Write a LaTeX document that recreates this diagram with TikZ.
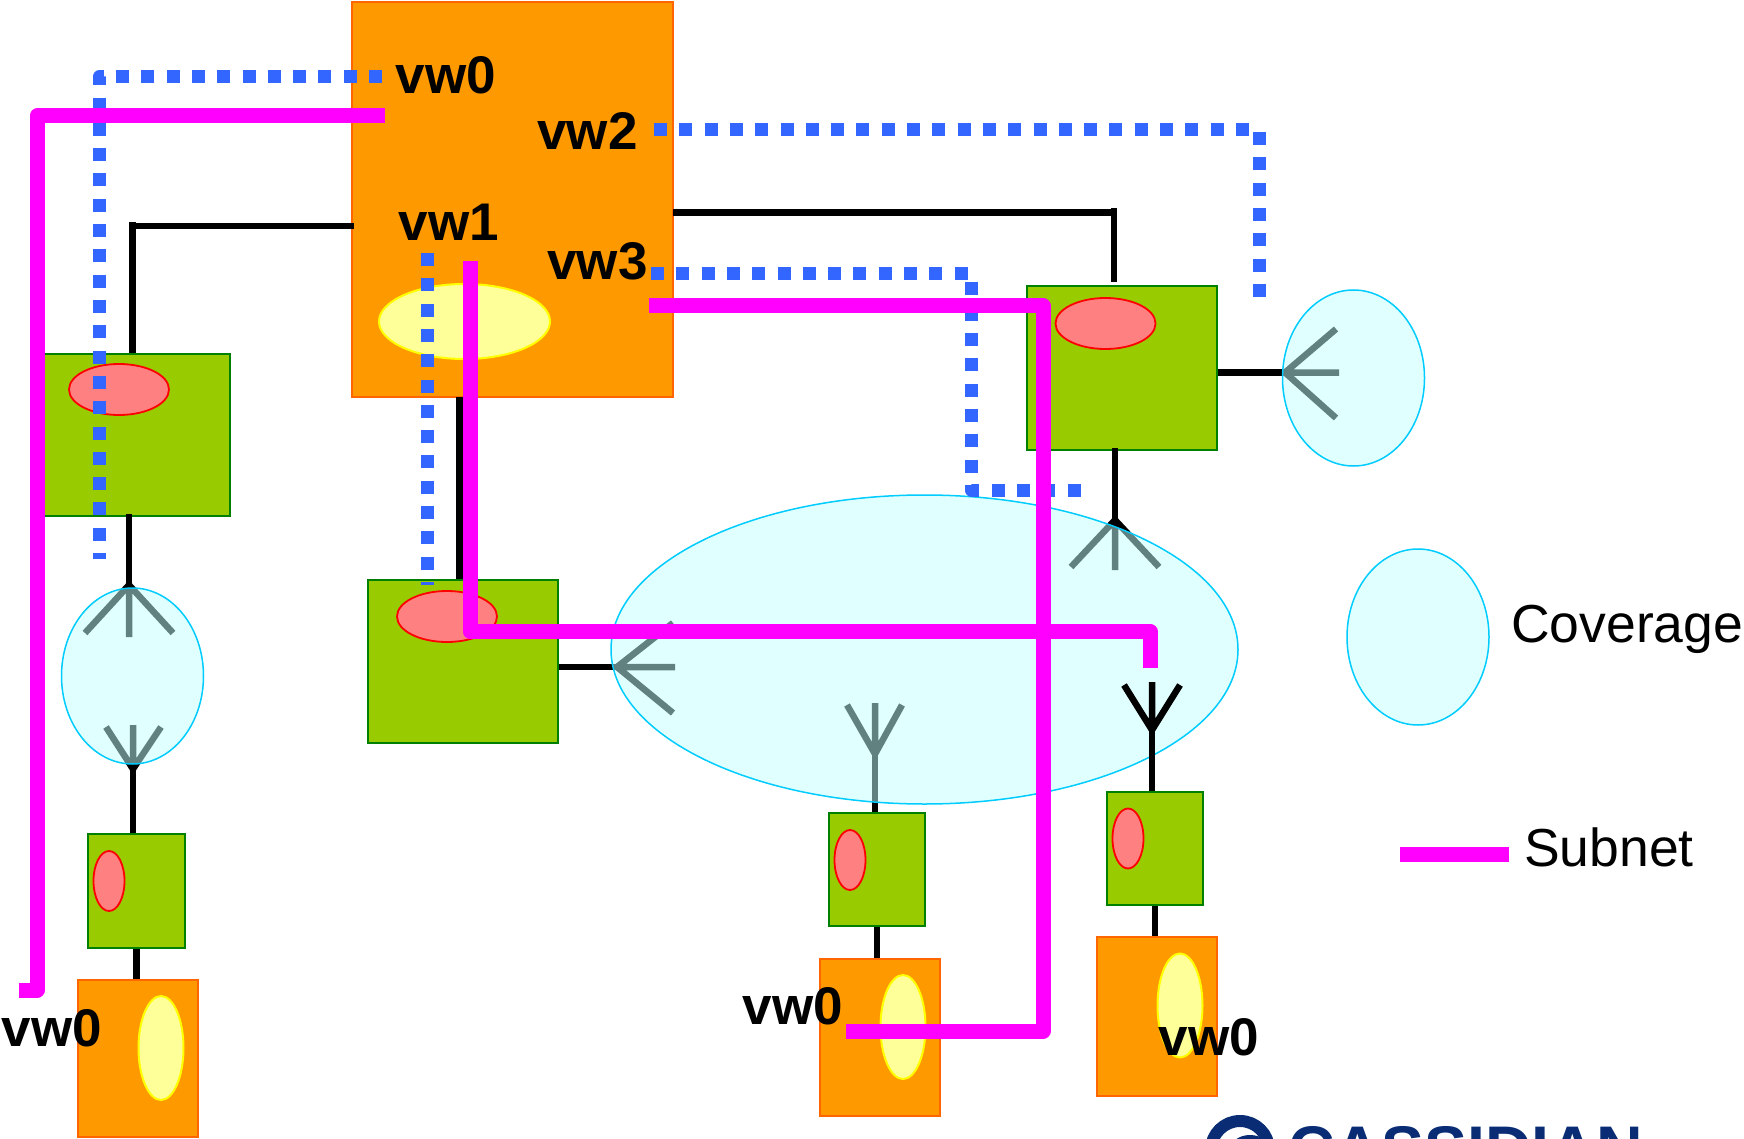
\documentclass[tikz,border=0pt]{standalone}
\usepackage{fontspec}
\setmainfont{Liberation Sans}
\usepackage{tikz}
\usetikzlibrary{shapes}
\usetikzlibrary{positioning}
\usetikzlibrary{calc}
\definecolor{hostfill}{HTML}{FF9900}
\definecolor{hostedge}{HTML}{FF6600}
\definecolor{vwfill}{HTML}{FFFF99}
\definecolor{vwedge}{HTML}{FFFF00}
\definecolor{radiofill}{HTML}{99CC00}
\definecolor{radioedge}{HTML}{008000}
\definecolor{portfill}{HTML}{FF8080}
\definecolor{portedge}{HTML}{FF0000}
\definecolor{cellfill}{HTML}{C2FFFF}
\definecolor{celledge}{HTML}{00CCFF}
\definecolor{dotblue}{HTML}{3366FF}
\definecolor{netpink}{HTML}{FF00FF}
\definecolor{logoblue}{HTML}{0A2C74}
\tikzset{
	host/.style={rectangle, draw=hostedge, fill=hostfill, line width=2pt, inner sep=0pt},
	radio/.style={rectangle, draw=radioedge, fill=radiofill, line width=2pt, inner sep=0pt},
	vwif/.style={ellipse, draw=vwedge, fill=vwfill, line width=2pt, inner sep=0pt},
	port/.style={ellipse, draw=portedge, fill=portfill, line width=1.8pt, inner sep=0pt},
	cell/.style={ellipse, draw=celledge, fill=cellfill, fill opacity=.5, line width=1.5pt, inner sep=0pt,
		minimum width=142pt, minimum height=176pt},
	wire/.style={draw=black, line width=6.5pt},
	vlink/.style={draw=dotblue, line width=13pt, dash pattern=on 13pt off 12.3pt, line join=round},
	subnet/.style={draw=netpink, line width=15pt, line join=round},
	vwlabel/.style={anchor=base, inner sep=0pt, font=\fontsize{53pt}{54pt}\selectfont\bfseries},
	keylabel/.style={anchor=base west, inner sep=0pt, font=\fontsize{53.5pt}{54pt}\selectfont},
}

\begin{document}
\begin{tikzpicture}[x=1pt, y=-1pt]
	\useasboundingbox (0,0) rectangle (1744,1139);
	\node[host, minimum width=321pt, minimum height=395pt] (hub) at (512.5,199.5) {};
	\node[vwif, minimum width=171pt, minimum height=75pt] (hubvw) at (464.5,321.5) {};
	\node[host, minimum width=120pt, minimum height=157pt] (hostA) at (138,1058.5) {};
	\node[host, minimum width=120pt, minimum height=157pt] (hostB) at (880,1037.5) {};
	\node[host, minimum width=120pt, minimum height=159pt] (hostC) at (1157,1016.5) {};
	\node[vwif, minimum width=45pt, minimum height=104pt] (vwA) at (161,1048) {};
	\node[vwif, minimum width=45pt, minimum height=104pt] (vwB) at (903,1027) {};
	\node[vwif, minimum width=45pt, minimum height=104pt] (vwC) at (1180,1005.5) {};
	\node[radio, minimum width=187pt, minimum height=162pt] (apL) at (136.5,435) {};
	\node[radio, minimum width=190pt, minimum height=163pt] (apM) at (463,661.5) {};
	\node[radio, minimum width=190pt, minimum height=163pt] (apR) at (1122,368) {};
	\node[radio, minimum width=97pt, minimum height=114pt] (staA) at (136.5,891) {};
	\node[radio, minimum width=96pt, minimum height=113pt] (staB) at (877,869.5) {};
	\node[radio, minimum width=96pt, minimum height=113pt] (staC) at (1155,848.5) {};
	\node[port, minimum width=100pt, minimum height=51pt] (portL) at (119,389.5) {};
	\node[port, minimum width=100pt, minimum height=51pt] (portM) at (447,616.5) {};
	\node[port, minimum width=100pt, minimum height=51pt] (portR) at (1105.5,323.5) {};
	\node[port, minimum width=31pt, minimum height=60pt] (portA) at (109,881) {};
	\node[port, minimum width=31pt, minimum height=60pt] (portB) at (850,860) {};
	\node[port, minimum width=31pt, minimum height=60pt] (portC) at (1128,838.5) {};

	\coordinate (antL) at (129,585);
	\coordinate (antA) at (133,769);
	\coordinate (antM) at (617,667);
	\coordinate (antT) at (1115,520);
	\coordinate (antR) at (1285,372.5);
	\coordinate (antB) at (875,754);
	\coordinate (antC) at (1152,730);
	\coordinate (hubL) at (354,226);
	\coordinate (elbL) at (132.5,226);
	\coordinate (hubR) at (673,212.5);
	\coordinate (elbR) at (1114,212.5);
	\coordinate (hubB) at (459.5,397);

	\draw[wire] (hubL) -- (elbL);
	\draw[wire, shorten <=-4pt] (elbL) -- (elbL |- apL.north);
	\draw[wire] (hubR) -- (elbR);
	\draw[wire, shorten <=-4pt, shorten >=3pt] (elbR) -- (elbR |- apR.north);
	\draw[wire] (hubB) -- (hubB |- apM.north);
	\draw[wire, shorten <=-3pt] (antL |- apL.south) -- (antL);
	\draw[wire] ($(antL)+(-44,48)$) -- (antL) -- ($(antL)+(44,48)$) (antL) -- ++(0,52);
	\draw[wire] (antA) -- (antA |- staA.north);
	\draw[wire] ($(antA)+(-27,-42)$) -- (antA) -- ($(antA)+(28,-42)$) (antA) -- ++(0,-44);
	\draw[wire] (apM.east |- antM) -- (antM);
	\draw[wire] ($(antM)+(56,-44)$) -- (antM) -- ($(antM)+(56,46)$) (antM) -- ++(58,0);
	\draw[wire, shorten <=-3pt] (antT |- apR.south) -- (antT);
	\draw[wire] ($(antT)+(-44,47)$) -- (antT) -- ($(antT)+(44,47)$) (antT) -- ++(0,50);
	\draw[wire] (apR.east |- antR) -- (antR);
	\draw[wire] ($(antR)+(51,-43.5)$) -- (antR) -- ($(antR)+(51,45.5)$) (antR) -- ++(54,0);
	\draw[wire] (antB) -- (antB |- staB.north);
	\draw[wire] ($(antB)+(-28,-49)$) -- (antB) -- ($(antB)+(27,-49)$) (antB) -- ++(0,-51);

	\node[cell] (cellL) at (132.5,676) {};
	\node[cell] (cellR) at (1353.5,378) {};
	\node[cell] (cellKey) at (1418,637) {};
	\node[cell, minimum width=627pt, minimum height=309pt] (cellM) at (924.5,649.5) {};

	\draw[wire] (antC) -- (antC |- staC.north);
	\draw[wire] ($(antC)+(-28,-45)$) -- (antC) -- ($(antC)+(28,-45)$) (antC) -- ++(0,-48);
	\draw[wire] (staA.south) -- (staA.south |- hostA.north);
	\draw[wire] (staB.south) -- (staB.south |- hostB.north);
	\draw[wire] (staC.south) -- (staC.south |- hostC.north);

	\coordinate (dotH) at (382,77);
	\coordinate (dotI) at (99,77);
	\coordinate (dotJ) at (99,559);
	\coordinate (dotK) at (654,130);
	\coordinate (dotL) at (1259,130);
	\coordinate (dotM) at (1259,298);
	\coordinate (dotN) at (651,274);
	\coordinate (dotO) at (971.5,274);
	\coordinate (dotP) at (971.5,490);
	\coordinate (dotQ) at (1083,490);
	\coordinate (dotR) at (427,253);
	\coordinate (dotS) at (427,585);
	\draw[vlink] (dotH) -- (dotI) -- (dotJ);
	\draw[vlink] (dotK) -- (dotL) -- (dotM);
	\draw[vlink] (dotN) -- (dotO) -- (dotP) -- (dotQ);
	\draw[vlink] (dotR) -- (dotS);

	\coordinate (netA) at (385,116);
	\coordinate (netB) at (37,116);
	\coordinate (netC) at (37,990);
	\coordinate (netD) at (19,990);
	\coordinate (netE) at (470,261);
	\coordinate (netF) at (470,631.5);
	\coordinate (netG) at (1150,631.5);
	\coordinate (netH) at (1150,668);
	\coordinate (netI) at (649,306);
	\coordinate (netJ) at (1043,306);
	\coordinate (netK) at (1043,1031);
	\coordinate (netL) at (846,1031);
	\coordinate (keyA) at (1400,854.5);
	\coordinate (keyB) at (1509,854.5);
	\draw[subnet] (netA) -- (netB) -- (netC) -- (netD);
	\draw[subnet] (netE) -- (netF) -- (netG) -- (netH);
	\draw[subnet] (netI) -- (netJ) -- (netK) -- (netL);
	\draw[subnet] (keyA) -- (keyB);

	\node[vwlabel] (lblzero) at (446,93.5) {vw0};
	\node[vwlabel] (lbltwo) at (587.5,149.5) {vw2};
	\node[vwlabel] (lblone) at (449,240.5) {vw1};
	\node[vwlabel] (lblthree) at (597.5,280) {vw3};
	\node[vwlabel] (lblA) at (52,1046.5) {vw0};
	\node[vwlabel] (lblB) at (793,1024.5) {vw0};
	\node[vwlabel] (lblC) at (1209,1055.5) {vw0};
	\node[keylabel] (lblcov) at (1511,642) {Coverage};
	\node[keylabel] (lblsub) at (1524,866) {Subnet};

	\begin{scope}
		\clip (0,0) rectangle (1744,1139);
		\node[circle, draw=logoblue, line width=12pt, minimum size=58pt, inner sep=0pt] (logoring) at (1240,1150) {};
		\node[ellipse, fill=logoblue, minimum width=40pt, minimum height=30pt, inner sep=0pt] (logocore) at (1250,1150) {};
		\node[anchor=base west, inner sep=0pt, text=logoblue, font=\fontsize{64.5pt}{65pt}\selectfont\bfseries] (logotext) at (1288,1171) {CASSIDIAN};
	\end{scope}
\end{tikzpicture}
\end{document}
